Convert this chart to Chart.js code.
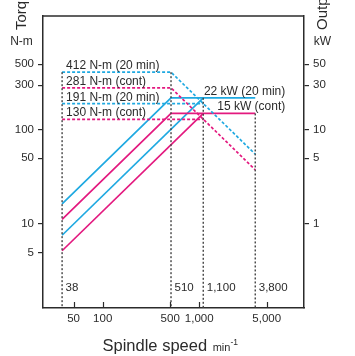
<!DOCTYPE html>
<html>
<head>
<meta charset="utf-8">
<script src="https://cdn.jsdelivr.net/npm/chart.js@4/dist/chart.umd.min.js"></script>
<style>
  html, body { margin: 0; padding: 0; background: #fff; }
  #wrap { width: 355px; height: 356px; }
</style>
</head>
<body>
<div id="wrap"><canvas id="spindle" width="355" height="356"></canvas></div>
<script>
// spindle speeds (min-1) where the curves change
const speedMarks = [38, 510, 1100, 3800];
const speedMarkLabels = ['38', '510', '1,100', '3,800'];

// tick values
const speedTicks = [50, 100, 500, 1000, 5000];
const torqueTicks = [5, 10, 50, 100, 300, 500];
const powerTicks = [1, 5, 10, 30, 50];

// torque curves, N-m (low gear to 3,800, high gear to 1,100)
const lowGearSpeeds = [38, 510, 3800];
const highGearSpeeds = [38, 1100];
const torque20Low = [412, 412, 55.3];
const torqueContLow = [281, 281, 37.7];
const torque20High = [191, 191];
const torqueContHigh = [130, 130];

// output curves, kW
const power20Low = [1.64, 22, 22];
const powerContLow = [1.12, 15, 15];
const power20High = [0.76, 22];
const powerContHigh = [0.52, 15];

const torqueLabels = ['412 N-m (20 min)', '281 N-m (cont)', '191 N-m (20 min)', '130 N-m (cont)'];
const torqueLabelValues = [412, 281, 191, 130];
const powerLabels = ['22 kW (20 min)', '15 kW (cont)'];
const powerLabelValues = [22, 15];

const BLUE = '#1fa9e1';
const PINK = '#e3197f';
const INK = '#2b2b2b';
const FONT = "'Liberation Sans', Arial, Helvetica, sans-serif";

const torqueRange = [1.28, 1630];
const powerRange = [0.128, 163];

function pts(xs, ys) {
  return xs.map((x, i) => ({ x: x, y: ys[i] }));
}

function curve(xs, ys, color, axis, dashed) {
  return {
    data: pts(xs, ys),
    yAxisID: axis,
    borderColor: color,
    borderWidth: 1.7,
    borderDash: dashed ? [3, 2] : [],
    pointRadius: 0,
    fill: false,
    tension: 0
  };
}

function marker(x, y, axis) {
  const bottom = axis === 'yT' ? torqueRange[0] : powerRange[0];
  return {
    data: [{ x: x, y: y }, { x: x, y: bottom }],
    yAxisID: axis,
    borderColor: '#444',
    borderWidth: 1.4,
    borderDash: [2, 2],
    pointRadius: 0,
    fill: false
  };
}

const datasets = [
  marker(speedMarks[0], torque20Low[0], 'yT'),
  marker(speedMarks[1], torque20Low[1], 'yT'),
  marker(speedMarks[2], power20High[1], 'yP'),
  marker(speedMarks[3], powerContLow[2], 'yP'),
  curve(lowGearSpeeds, torque20Low, BLUE, 'yT', true),
  curve(lowGearSpeeds, torqueContLow, PINK, 'yT', true),
  curve(highGearSpeeds, torque20High, BLUE, 'yT', true),
  curve(highGearSpeeds, torqueContHigh, PINK, 'yT', true),
  curve(lowGearSpeeds, power20Low, BLUE, 'yP', false),
  curve(lowGearSpeeds, powerContLow, PINK, 'yP', false),
  curve(highGearSpeeds, power20High, BLUE, 'yP', false),
  curve(highGearSpeeds, powerContHigh, PINK, 'yP', false)
];

function fixedTicks(values) {
  return function (scale) {
    scale.ticks = values.map(v => ({ value: v }));
  };
}

const fmt = v => Number(v).toLocaleString('en-US');

// frame, inner x ticks, labels and axis titles
const decorations = {
  id: 'decorations',
  afterDraw(chart) {
    const ctx = chart.ctx;
    const area = chart.chartArea;
    const xs = chart.scales.x;
    const yT = chart.scales.yT;
    const yP = chart.scales.yP;
    ctx.save();

    ctx.strokeStyle = INK;
    ctx.lineWidth = 1.5;
    ctx.beginPath();
    ctx.moveTo(area.left, area.top);
    ctx.lineTo(area.right, area.top);
    ctx.stroke();

    ctx.lineWidth = 1.2;
    speedTicks.forEach(v => {
      const px = Math.round(xs.getPixelForValue(v)) + 0.5;
      ctx.beginPath();
      ctx.moveTo(px, area.bottom);
      ctx.lineTo(px, area.bottom - 6);
      ctx.stroke();
    });

    ctx.fillStyle = INK;
    ctx.font = '12px ' + FONT;
    ctx.textAlign = 'left';
    ctx.textBaseline = 'alphabetic';
    const x0 = xs.getPixelForValue(speedMarks[0]) + 4;
    torqueLabels.forEach((t, i) => {
      ctx.fillText(t, x0, yT.getPixelForValue(torqueLabelValues[i]) - 3);
    });

    ctx.textAlign = 'right';
    const xr = xs.getPixelForValue(speedMarks[3]) + 30;
    powerLabels.forEach((t, i) => {
      ctx.fillText(t, xr, yP.getPixelForValue(powerLabelValues[i]) - 3);
    });

    ctx.textAlign = 'left';
    ctx.font = '11.5px ' + FONT;
    speedMarks.forEach((v, i) => {
      ctx.fillText(speedMarkLabels[i], xs.getPixelForValue(v) + 3.5, area.bottom - 17);
    });

    // units
    ctx.font = '12px ' + FONT;
    ctx.textAlign = 'center';
    ctx.fillText('N-m', 21.5, 44.5);
    ctx.fillText('kW', 322.5, 44.5);

    // rotated axis titles
    ctx.font = '15px ' + FONT;
    ctx.textAlign = 'left';
    ctx.save();
    ctx.translate(25.5, 30);
    ctx.rotate(-Math.PI / 2);
    ctx.fillText('Torque', 0, 0);
    ctx.restore();
    ctx.save();
    ctx.translate(327, 30);
    ctx.rotate(-Math.PI / 2);
    ctx.fillText('Output', 0, 0);
    ctx.restore();

    // x title with unit
    ctx.font = '16.5px ' + FONT;
    ctx.textAlign = 'left';
    const tx = 102.5;
    const ty = 351;
    ctx.fillText('Spindle speed', tx, ty);
    let w = ctx.measureText('Spindle speed ').width;
    ctx.font = '11px ' + FONT;
    ctx.fillText('min', tx + w + 1, ty);
    w += ctx.measureText('min').width + 1;
    ctx.font = '8.5px ' + FONT;
    ctx.fillText('-1', tx + w, ty - 6);

    ctx.restore();
  }
};

new Chart(document.getElementById('spindle'), {
  type: 'line',
  data: { datasets: datasets },
  options: {
    responsive: false,
    animation: false,
    devicePixelRatio: 1,
    layout: { padding: { top: 16, left: 0, right: 0, bottom: 0 } },
    plugins: { legend: { display: false }, tooltip: { enabled: false } },
    scales: {
      x: {
        type: 'logarithmic',
        position: 'bottom',
        min: 24.1,
        max: 12150,
        afterBuildTicks: fixedTicks(speedTicks),
        afterFit: s => { s.height = 48; },
        border: { color: INK, width: 1.5 },
        grid: { display: true, drawOnChartArea: false, drawTicks: false },
        ticks: {
          autoSkip: false, maxRotation: 0, padding: 4, color: INK,
          font: { family: FONT, size: 11.5 },
          callback: v => fmt(v)
        }
      },
      yT: {
        type: 'logarithmic',
        position: 'left',
        min: torqueRange[0],
        max: torqueRange[1],
        afterBuildTicks: fixedTicks(torqueTicks),
        afterFit: s => { s.width = 43; },
        border: { color: INK, width: 1.5 },
        grid: { drawOnChartArea: false, drawTicks: true, tickLength: 5, color: INK, lineWidth: 1.2 },
        ticks: {
          autoSkip: false, padding: 4, color: INK,
          font: { family: FONT, size: 11.5 },
          callback: v => fmt(v)
        }
      },
      yP: {
        type: 'logarithmic',
        position: 'right',
        min: powerRange[0],
        max: powerRange[1],
        afterBuildTicks: fixedTicks(powerTicks),
        afterFit: s => { s.width = 51; },
        border: { color: INK, width: 1.5 },
        grid: { drawOnChartArea: false, drawTicks: true, tickLength: 5, color: INK, lineWidth: 1.2 },
        ticks: {
          autoSkip: false, padding: 4, color: INK,
          font: { family: FONT, size: 11.5 },
          callback: v => fmt(v)
        }
      }
    }
  },
  plugins: [decorations]
});
</script>
</body>
</html>
